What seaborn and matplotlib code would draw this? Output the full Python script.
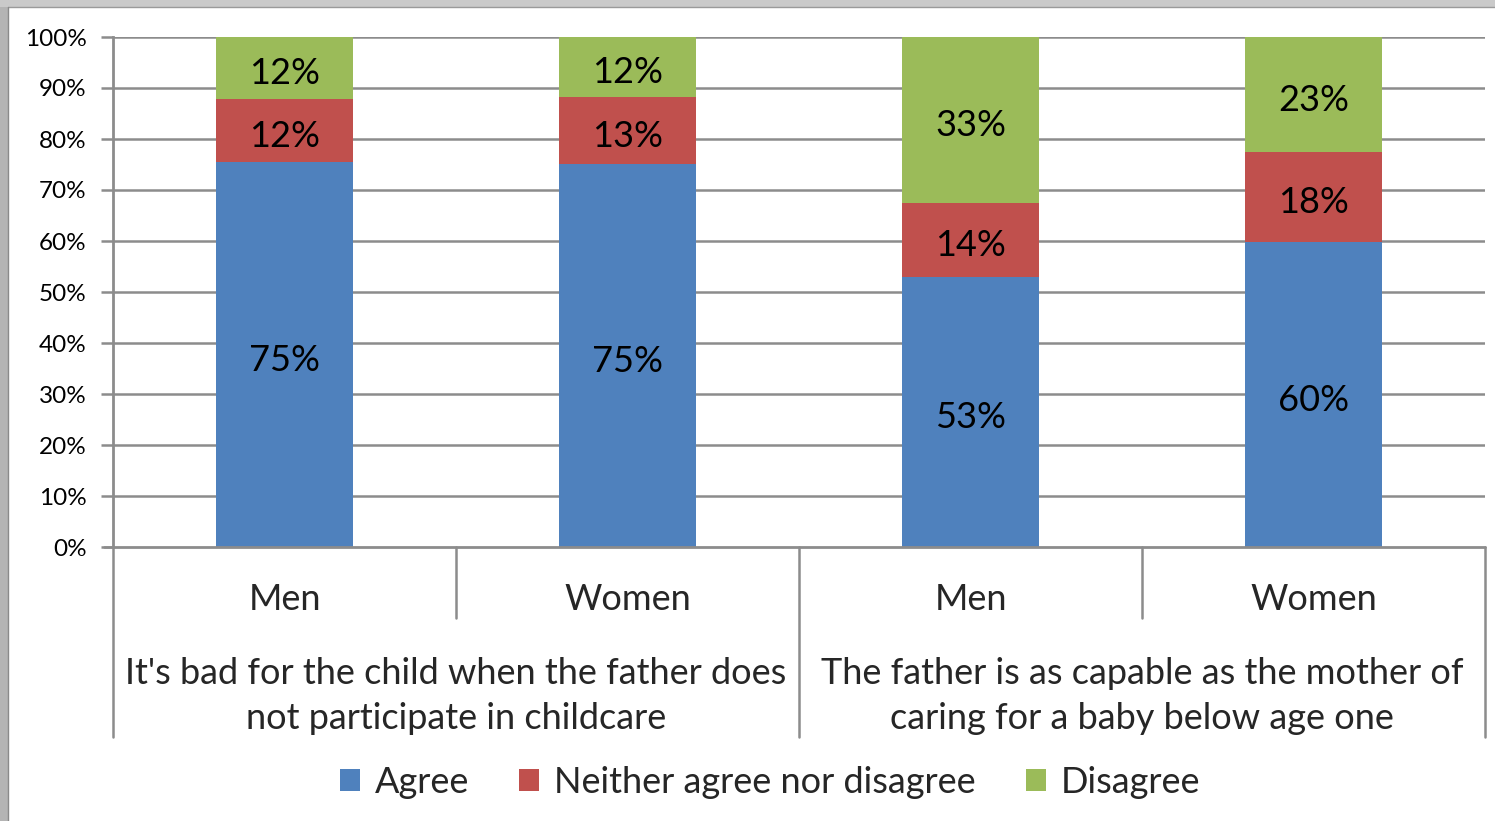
import numpy as np
import pandas as pd
import matplotlib
matplotlib.use("Agg")
import matplotlib.pyplot as plt
from matplotlib.patches import Rectangle, Patch
import matplotlib.transforms as mtransforms
import seaborn as sns

# --- data -------------------------------------------------------------
groups = ["Men", "Women", "Men", "Women"]
statements = [
    "It's bad for the child when the father does\nnot participate in childcare",
    "The father is as capable as the mother of\ncaring for a baby below age one",
]
series = ["Agree", "Neither agree nor disagree", "Disagree"]
agree = [75.4, 75.1, 53.0, 59.8]
neither = [12.4, 13.1, 14.4, 17.6]
disagree = [12.2, 11.8, 32.6, 22.6]
yticks = [0, 10, 20, 30, 40, 50, 60, 70, 80, 90, 100]

colors = ["#4F81BD", "#C0504D", "#9BBB59"]
grid_col = "#8C8C8C"
FONT = "Lato"
BIG = 26

sns.set_theme(style="white")
plt.rcParams["font.family"] = [FONT, "DejaVu Sans"]

fig = plt.figure(figsize=(14.95, 8.21), dpi=100)
ax = fig.add_axes([113 / 1495, 1 - 547 / 821, (1485 - 113) / 1495, 510 / 821])

pos = list(range(len(groups)))
df = pd.DataFrame({"pos": pos, "agree": agree, "neither": neither, "disagree": disagree})
df["lvl1"] = df["agree"]
df["lvl2"] = df["agree"] + df["neither"]
df["lvl3"] = df["lvl2"] + df["disagree"]

# stacked bars drawn as overlapping cumulative totals, tallest first
for col, c in zip(["lvl3", "lvl2", "lvl1"], colors[::-1]):
    sns.barplot(data=df, x="pos", y=col, color=c, width=0.4, saturation=1,
                native_scale=True, ax=ax, linewidth=0, zorder=3)

# segment labels
for i in pos:
    bottoms = [0, df.loc[i, "lvl1"], df.loc[i, "lvl2"]]
    vals = [agree[i], neither[i], disagree[i]]
    for b, v in zip(bottoms, vals):
        ax.annotate(f"{v:.0f}%", (i, b + v / 2), xytext=(0, -4),
                    textcoords="offset points", ha="center", va="center",
                    fontsize=BIG, color="black", zorder=5)

ax.set_xlim(-0.5, len(groups) - 0.5)
ax.set_ylim(0, 100)
ax.set_yticks(yticks)
ax.set_yticklabels([f"{t}%" for t in yticks], fontsize=17.5)
ax.set_xticks([])
ax.set_xlabel("")
ax.set_ylabel("")

for t in yticks[1:]:
    ax.axhline(t, color=grid_col, lw=1.8, zorder=1)

for s in ["top", "right", "bottom"]:
    ax.spines[s].set_visible(False)
ax.spines["left"].set_color(grid_col)
ax.spines["left"].set_linewidth(2)
ax.tick_params(axis="y", which="major", length=9, width=1.8, color=grid_col,
               left=True, pad=10, labelcolor="black")

# baseline extended past the axis like the tick marks
ax.plot([-0.5, len(groups) - 0.5], [0, 0], color=grid_col, lw=2,
        clip_on=False, zorder=4)
trans_tick = mtransforms.blended_transform_factory(ax.transAxes, ax.transData)
ax.plot([-9 / 1372, 0], [0, 0], color=grid_col, lw=1.8, transform=trans_tick,
        clip_on=False)

# multi-level category axis
btrans = mtransforms.blended_transform_factory(ax.transData, ax.transAxes)
inner_bottom = (547 - 618) / 510
outer_bottom = (547 - 737) / 510
for x in [-0.5, 1.5, 3.5]:
    ax.plot([x, x], [0, outer_bottom], color=grid_col, lw=1.8,
            transform=btrans, clip_on=False)
for x in [0.5, 2.5]:
    ax.plot([x, x], [0, inner_bottom], color=grid_col, lw=1.8,
            transform=btrans, clip_on=False)

for i, g in enumerate(groups):
    ax.text(i, (547 - 599) / 510, g, transform=btrans, ha="center",
            va="center", fontsize=BIG)
for j, st in enumerate(statements):
    ax.text(2 * j + 0.5, (547 - 696) / 510, st, transform=btrans,
            ha="center", va="center", fontsize=BIG, linespacing=1.45)

# legend
handles = [Patch(facecolor=c, edgecolor="none") for c in colors]
fig.legend(handles, series, loc="center", bbox_to_anchor=(770 / 1495, 1 - 782 / 821),
           ncol=3, frameon=False, fontsize=BIG, handlelength=0.55,
           handleheight=0.55, handletextpad=0.4, columnspacing=1.4)

# window frame strips
fig.patches.append(Rectangle((0, 0), 8 / 1495, 1, transform=fig.transFigure,
                             facecolor="#B4B4B4", edgecolor="none", zorder=0))
fig.patches.append(Rectangle((0, 1 - 7 / 821), 1, 7 / 821, transform=fig.transFigure,
                             facecolor="#CACACA", edgecolor="none", zorder=0))
fig.add_artist(plt.Line2D([8 / 1495, 1], [1 - 7 / 821, 1 - 7 / 821],
                          transform=fig.transFigure, color="#9A9A9A", lw=1))
fig.add_artist(plt.Line2D([8 / 1495, 8 / 1495], [0, 1 - 7 / 821],
                          transform=fig.transFigure, color="#8A8A8A", lw=1))

fig.savefig("out.png", dpi=100)
